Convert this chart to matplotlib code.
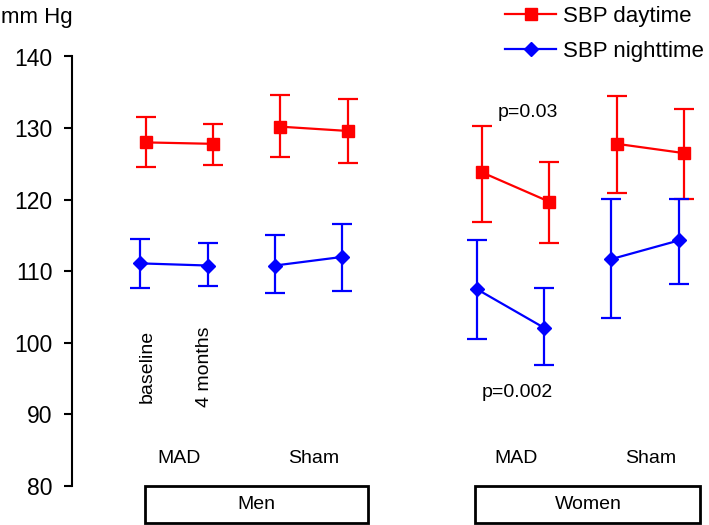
import numpy as np
import matplotlib.pyplot as plt
from matplotlib.patches import Rectangle

plt.rcParams['font.family'] = ['Liberation Sans', 'DejaVu Sans']

# x positions: Men MAD, Men Sham, (gap), Women MAD, Women Sham; baseline / 4 months
pos = np.array([1, 2, 3, 4, 6, 7, 8, 9], dtype=float)

# SBP daytime (red)
day = np.array([128.0, 127.8, 130.2, 129.6, 123.8, 119.7, 127.8, 126.5])
day_hi = np.array([131.6, 130.6, 134.6, 134.1, 130.3, 125.3, 134.5, 132.7])
day_lo = np.array([124.5, 124.8, 125.9, 125.1, 116.9, 114.0, 120.9, 120.1])

# SBP nighttime (blue)
night = np.array([111.1, 110.8, 110.8, 112.0, 107.5, 102.1, 111.7, 114.3])
night_hi = np.array([114.5, 114.0, 115.1, 116.6, 114.3, 107.7, 120.1, 120.1])
night_lo = np.array([107.7, 108.0, 106.9, 107.2, 100.5, 96.9, 103.5, 108.2])

groups = ['MAD', 'Sham', 'MAD', 'Sham']
sexes = ['Men', 'Women']

fig = plt.figure(figsize=(7.09, 5.25), dpi=100)
ax = fig.add_axes([72 / 709, 1 - 486 / 525, 1 - 72 / 709, (486 - 56.5) / 525])

off = -0.08  # blue drawn slightly to the left
for i in range(0, 8, 2):
    sl = slice(i, i + 2)
    ax.errorbar(pos[sl], day[sl], yerr=[day[sl] - day_lo[sl], day_hi[sl] - day[sl]],
                fmt='none', ecolor='red', elinewidth=1.6, capsize=7.4, capthick=1.6)
    ax.plot(pos[sl], day[sl], color='red', lw=1.6, marker='s', ms=9,
            label='SBP daytime' if i == 0 else None)
    ax.errorbar(pos[sl] + off, night[sl], yerr=[night[sl] - night_lo[sl], night_hi[sl] - night[sl]],
                fmt='none', ecolor='blue', elinewidth=1.6, capsize=7.4, capthick=1.6)
    ax.plot(pos[sl] + off, night[sl], color='blue', lw=1.6, marker='D', ms=7.5,
            label='SBP nighttime' if i == 0 else None)

ax.set_xlim(-0.095, 9.37)
ax.set_ylim(80, 140)
ax.set_yticks(np.arange(80, 141, 10))
ax.set_xticks([])
for s in ['top', 'right', 'bottom']:
    ax.spines[s].set_visible(False)
ax.spines['left'].set_linewidth(1.5)
ax.tick_params(axis='y', length=6, width=1.5, labelsize=16.5, pad=8)

# time labels
ax.text(1.02, 96.7, 'baseline', rotation=90, ha='center', va='center', fontsize=14)
ax.text(1.87, 96.7, '4 months', rotation=90, ha='center', va='center', fontsize=14)

# group labels
for k, g in enumerate(groups):
    xc = (pos[2 * k] + pos[2 * k + 1]) / 2
    ax.text(xc, 83.8, g, ha='center', va='center', fontsize=14)

# sex boxes below the axis
boxes = [(0.99, 4.30), (5.90, 9.24)]
for (x0, x1), s in zip(boxes, sexes):
    ax.add_patch(Rectangle((x0, 74.9), x1 - x0, 80 - 74.9, fill=False, lw=2,
                           ec='black', clip_on=False))
    ax.text((x0 + x1) / 2, 77.45, s, ha='center', va='center', fontsize=14)

ax.text(6.23, 132.2, 'p=0.03', ha='left', va='center', fontsize=14)
ax.text(5.99, 93.0, 'p=0.002', ha='left', va='center', fontsize=14)

fig.text(1 / 709, 1 - 18 / 525, 'mm Hg', ha='left', va='center', fontsize=16)

ax.legend(loc='upper left', bbox_to_anchor=(503 / 709, 1 - 4 / 525), bbox_transform=fig.transFigure,
          frameon=False, fontsize=16, handlelength=2.3, handletextpad=0.3,
          borderpad=0.1, borderaxespad=0, labelspacing=0.6)

fig.savefig('out.png', dpi=100)
